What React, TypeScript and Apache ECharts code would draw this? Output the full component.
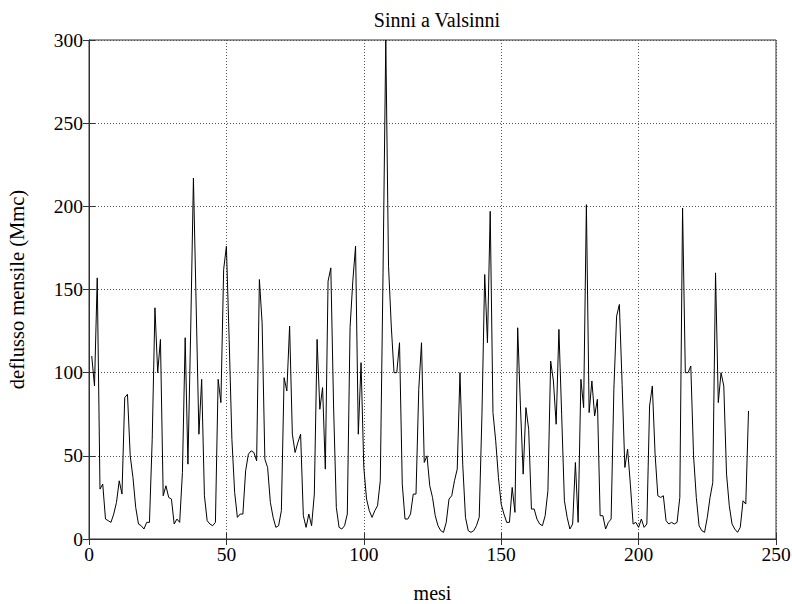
import React, { useEffect, useRef } from "react";
import * as echarts from "echarts";

const title = "Sinni a Valsinni";
const xLabel = "mesi";
const yLabel = "deflusso mensile (Mmc)";
const xTicks = [0, 50, 100, 150, 200, 250];
const yTicks = [0, 50, 100, 150, 200, 250, 300];

// monthly runoff, months 1..240
const flowY1to5 = [110, 92, 157, 30, 33, 12, 11, 10, 15, 22, 35, 27, 85, 87, 50, 37, 19, 9, 8, 6, 10, 10, 60, 139, 100, 120, 26, 32, 25, 24, 9, 12, 10, 40, 121, 45, 125, 217, 140, 63, 96, 26, 11, 9, 8, 10, 96, 82, 162, 176, 120, 60, 28, 13, 15, 15, 41, 51, 53, 52];
const flowY6to10 = [47, 156, 130, 48, 43, 22, 13, 7, 8, 17, 97, 89, 128, 63, 52, 58, 63, 14, 7, 15, 8, 27, 120, 78, 91, 42, 155, 163, 80, 19, 7, 6, 8, 15, 127, 155, 176, 63, 106, 43, 24, 17, 13, 17, 20, 35, 160, 300, 164, 128, 100, 100, 118, 33, 12, 12, 15, 27, 27, 90];
const flowY11to15 = [118, 46, 50, 32, 25, 14, 8, 5, 4, 10, 24, 26, 35, 42, 100, 45, 13, 5, 4, 5, 8, 13, 75, 159, 118, 197, 76, 59, 37, 21, 15, 10, 10, 31, 16, 127, 80, 39, 79, 66, 18, 18, 12, 9, 8, 14, 29, 107, 95, 69, 126, 75, 23, 13, 6, 9, 46, 10, 96, 79];
const flowY16to20 = [201, 76, 95, 74, 84, 14, 14, 6, 10, 12, 90, 134, 141, 93, 43, 54, 33, 9, 10, 7, 12, 7, 9, 80, 92, 51, 26, 25, 26, 11, 9, 10, 9, 10, 25, 199, 100, 100, 104, 50, 25, 8, 5, 4, 13, 25, 34, 160, 82, 100, 92, 39, 20, 9, 6, 4, 7, 23, 21, 77];

const flow = [...flowY1to5, ...flowY6to10, ...flowY11to15, ...flowY16to20];

export default function App() {
  const ref = useRef<HTMLDivElement>(null);
  useEffect(() => {
    if (!ref.current) return;
    const chart = echarts.init(ref.current, null, { renderer: "svg" });
    const font = "'Liberation Serif', 'Times New Roman', serif";
    const data = flow.map((v, i) => [i + 1, v]);
    const axisColor = "#333";
    const gridLine = { show: true, lineStyle: { color: "#555", type: [1, 2] as any, width: 1 } };
    chart.setOption({
      animation: false,
      backgroundColor: "#fff",
      title: {
        text: title,
        left: 432,
        top: 5,
        textAlign: "center",
        textStyle: { fontFamily: font, fontSize: 20, fontWeight: "normal", color: "#000" },
      },
      grid: {
        left: 89,
        right: 16,
        top: 40,
        bottom: 65,
        show: true,
        borderColor: axisColor,
        borderWidth: 1,
        containLabel: false,
        outerBoundsMode: "none",
      },
      xAxis: [
        {
          type: "value",
          min: xTicks[0],
          max: xTicks[xTicks.length - 1],
          interval: 50,
          name: xLabel,
          nameLocation: "middle",
          nameGap: 44,
          nameTextStyle: { fontFamily: font, fontSize: 20, color: "#000" },
          axisLine: { show: true, lineStyle: { color: axisColor } },
          axisTick: { show: true, inside: true, length: 6, lineStyle: { color: axisColor } },
          axisLabel: { fontFamily: font, fontSize: 19.5, color: "#000", margin: 5 },
          splitLine: gridLine,
        },
        {
          type: "value",
          position: "top",
          min: xTicks[0],
          max: xTicks[xTicks.length - 1],
          interval: 50,
          axisLine: { show: true, lineStyle: { color: axisColor } },
          axisTick: { show: true, inside: true, length: 6, lineStyle: { color: axisColor } },
          axisLabel: { show: false },
          splitLine: { show: false },
        },
      ],
      yAxis: [
        {
          type: "value",
          min: yTicks[0],
          max: yTicks[yTicks.length - 1],
          interval: 50,
          name: yLabel,
          nameLocation: "middle",
          nameGap: 62,
          nameTextStyle: { fontFamily: font, fontSize: 20.5, color: "#000" },
          axisLine: { show: true, lineStyle: { color: axisColor } },
          axisTick: { show: true, inside: true, length: 6, lineStyle: { color: axisColor } },
          axisLabel: { fontFamily: font, fontSize: 19.5, color: "#000", margin: 6 },
          splitLine: gridLine,
        },
        {
          type: "value",
          position: "right",
          min: yTicks[0],
          max: yTicks[yTicks.length - 1],
          interval: 50,
          axisLine: { show: true, lineStyle: { color: axisColor } },
          axisTick: { show: true, inside: true, length: 6, lineStyle: { color: axisColor } },
          axisLabel: { show: false },
          splitLine: { show: false },
        },
      ],
      series: [
        {
          type: "line",
          data,
          showSymbol: false,
          symbol: "none",
          lineStyle: { color: "#000", width: 1 },
          xAxisIndex: 0,
          yAxisIndex: 0,
        },
      ],
    });
    return () => chart.dispose();
  }, []);
  return <div ref={ref} style={{ position: "fixed", left: 0, top: 0, width: 792, height: 604, background: "#fff" }} />;
}
